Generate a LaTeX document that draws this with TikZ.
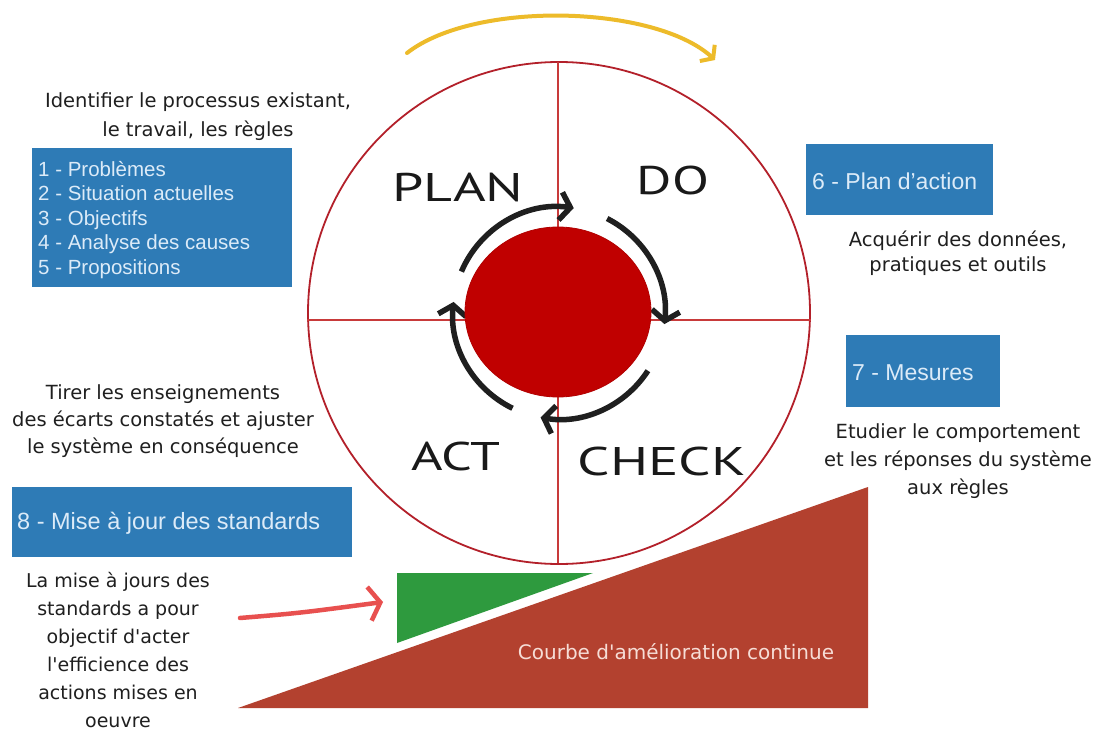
\documentclass[tikz,border=0pt]{standalone}
\usepackage{fontspec}
\usepackage{graphicx}
\setmainfont{Liberation Sans}
\newfontfamily\hand{DejaVu Sans}
\newfontfamily\capsfont{PT Sans}
\usetikzlibrary{arrows.meta,shapes.geometric}
\definecolor{boxblue}{HTML}{2E7BB6}
\definecolor{boxtext}{HTML}{DCEBF8}
\definecolor{ringred}{HTML}{B3202A}
\definecolor{crossred}{HTML}{C83A3A}
\definecolor{coreRed}{HTML}{C00000}
\definecolor{brick}{HTML}{B3412F}
\definecolor{leaf}{HTML}{2E9A3E}
\definecolor{gold}{HTML}{EDBB2A}
\definecolor{pinkred}{HTML}{E8504F}
\definecolor{courbe}{HTML}{F6DDD6}
\tikzset{
  bluebox/.style={fill=boxblue, draw=none, inner sep=0pt},
  boxtxt/.style={text=boxtext, align=left, anchor=west, inner sep=0pt, font=\fontsize{23}{27}\selectfont},
  handtxt/.style={align=center, text=black!88, font=\hand\fontsize{19.5}{27}\selectfont},
  phase/.style={text=black!90, font=\capsfont\fontsize{40}{44}\selectfont, inner sep=0pt},
  cyc/.style={line width=5.5pt, black!88, -{Straight Barb[length=10pt,width=28pt]}},
  yarrow/.style={line width=4pt, gold, line cap=round, -{Straight Barb[length=8pt,width=22pt]}},
  rarrow/.style={line width=4.5pt, pinkred, line cap=round, -{Straight Barb[length=11pt,width=34pt]}}
}
\begin{document}
\begin{tikzpicture}[x=1pt,y=-1pt]
\useasboundingbox (0,0) rectangle (1093,733);
\fill[white] (0,0) rectangle (1093,733);

% improvement curve
\fill[brick] (238,708) -- (868,487) -- (868,708) -- cycle;
\fill[leaf] (397,573) -- (593,573) -- (397,643) -- cycle;
\node[font=\hand\fontsize{20}{22}\selectfont, text=courbe] (courbe) at (676,652) {Courbe d'amélioration continue};

% main circle and cross
\coordinate (c) at (559,313);
\draw[ringred, line width=1.8pt] (c) circle[radius=251];
\draw[crossred, line width=1.3pt] (558,62) -- (558,563);
\draw[crossred, line width=1.3pt] (307,320) -- (811,320);

% cycle arrows
\draw[cyc] ([shift={(-157:106)}]c) arc[start angle=-157, end angle=-82, radius=106];
\draw[cyc] ([shift={(-63:106)}]c) arc[start angle=-63, end angle=6, radius=106];
\draw[cyc] ([shift={(33:106)}]c) arc[start angle=33, end angle=100, radius=106];
\draw[cyc] ([shift={(116:106)}]c) arc[start angle=116, end angle=186, radius=106];

% red core
\node[ellipse, minimum width=186pt, minimum height=170pt, fill=coreRed, draw=red!70!black, line width=0.8pt] (core) at (558,312) {};

% phase labels
\node[phase] (plan) at (458,187) {\scalebox{1.4}[1]{PLAN}};
\node[phase] (do) at (673,180) {\scalebox{1.35}[1]{DO}};
\node[phase] (act) at (456,456) {\scalebox{1.35}[1]{ACT}};
\node[phase] (check) at (662,461) {\scalebox{1.42}[1]{CHECK}};

% yellow arrow
\coordinate (y1) at (407,53);
\coordinate (y2) at (715,60);
\draw[yarrow] (y1) .. controls (475,0) and (655,5) .. (y2);

% blue boxes
\node[bluebox, minimum width=260pt, minimum height=139pt] (b1) at (162,217.5) {};
\node[boxtxt, font=\fontsize{20.5}{24.5}\selectfont] (t1) at (38,220)
  {1 - Problèmes\\2 - Situation actuelles\\3 - Objectifs\\4 - Analyse des causes\\5 - Propositions};
\node[bluebox, minimum width=187pt, minimum height=71pt] (b6) at (899.5,179.5) {};
\node[boxtxt] (t6) at (812,181) {6 - Plan d'action};
\node[bluebox, minimum width=154pt, minimum height=72pt] (b7) at (923,371) {};
\node[boxtxt] (t7) at (852,373) {7 - Mesures};
\node[bluebox, minimum width=340pt, minimum height=70pt] (b8) at (182,522) {};
\node[boxtxt, font=\fontsize{23.5}{27}\selectfont] (t8) at (17,523) {8 - Mise à jour des standards};

% handwritten notes
\node[handtxt, font=\hand\fontsize{19.5}{29}\selectfont] (n1) at (198,117) {Identifier le processus existant,\\le travail, les règles};
\node[handtxt, font=\hand\fontsize{19.5}{25}\selectfont] (n6) at (958,253) {Acquérir des données,\\pratiques et outils};
\node[handtxt, font=\hand\fontsize{19.5}{27}\selectfont] (n8) at (163,421) {Tirer les enseignements\\des écarts constatés et ajuster\\le système en conséquence};
\node[handtxt, font=\hand\fontsize{19.5}{28}\selectfont] (n7) at (958,461) {Etudier le comportement\\et les réponses du système\\aux règles};
\node[handtxt, font=\hand\fontsize{19}{28}\selectfont] (n9) at (118,650) {La mise à jours des\\standards a pour\\objectif d'acter\\l'efficience des\\actions mises en\\oeuvre};

% red arrow
\coordinate (r1) at (240,618);
\coordinate (r2) at (383,602);
\draw[rarrow] (r1) .. controls (300,613) .. (r2);
\end{tikzpicture}
\end{document}
